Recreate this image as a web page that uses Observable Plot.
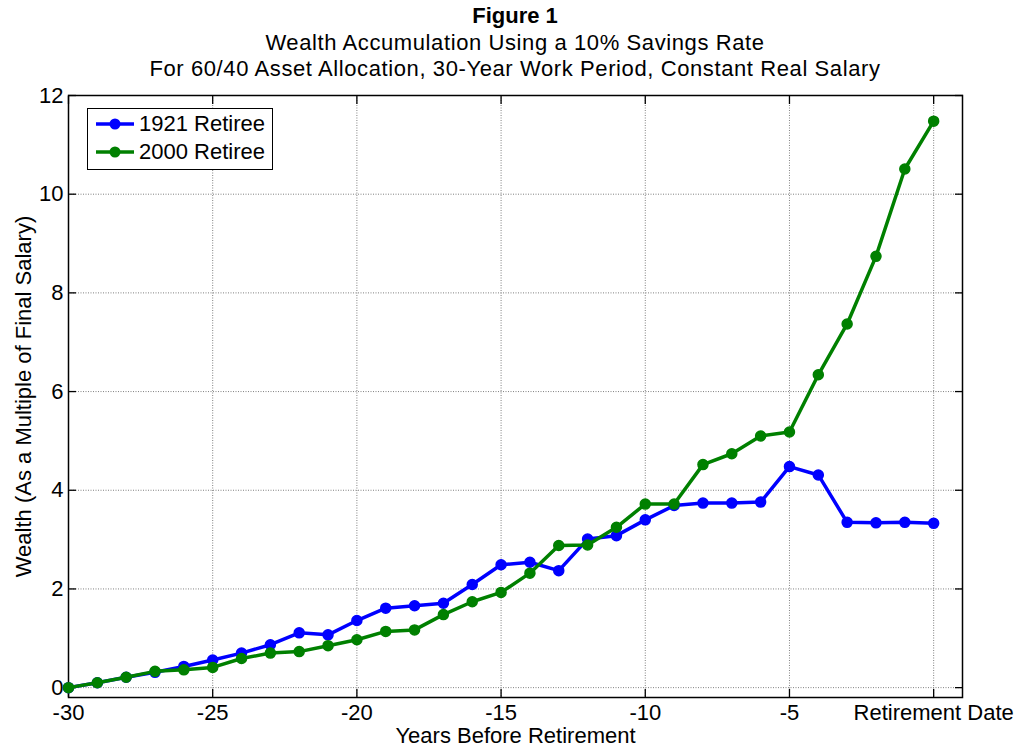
<!DOCTYPE html>
<html><head><meta charset="utf-8">
<script src="https://cdn.jsdelivr.net/npm/d3@7"></script>
<script src="https://cdn.jsdelivr.net/npm/@observablehq/plot@0.6"></script>
<style>
body{margin:0;background:#fff;font-family:"Liberation Sans",Arial,sans-serif;color:#000;}
#wrap{position:relative;width:1021px;height:748px;overflow:hidden;}
#title{height:80px;margin-left:68px;width:894px;text-align:center;font-size:22px;line-height:26.5px;padding-top:3px;box-sizing:border-box;}
#title b{font-weight:bold;}
#title span{letter-spacing:0.6px;}
#legend{position:absolute;left:87px;top:108px;width:186px;height:62px;border:1px solid #000;background:#fff;box-sizing:border-box;font-size:22px;}
.row{position:absolute;left:0;height:28px;display:flex;align-items:center;}
.row svg{margin-left:8px;margin-right:4px;}
</style></head>
<body>
<div id="wrap">
<div id="title"><b>Figure 1</b><br><span>Wealth Accumulation Using a 10% Savings Rate</span><br><span>For 60/40 Asset Allocation, 30-Year Work Period, Constant Real Salary</span></div>
<div id="chart"></div>
<div id="legend"></div>
</div>
<script>
const years = [-30,-29,-28,-27,-26,-25,-24,-23,-22,-21,-20,-19,-18,-17,-16,-15,-14,-13,-12,-11,-10,-9,-8,-7,-6,-5,-4,-3,-2,-1,0];
const retiree1921 = [0,0.10,0.21,0.31,0.43,0.56,0.70,0.87,1.11,1.07,1.36,1.61,1.66,1.71,2.09,2.49,2.54,2.37,3.01,3.08,3.40,3.69,3.74,3.74,3.76,4.48,4.31,3.35,3.34,3.35,3.33];
const retiree2000 = [0,0.10,0.21,0.33,0.36,0.41,0.59,0.70,0.73,0.85,0.97,1.14,1.17,1.48,1.74,1.93,2.32,2.88,2.89,3.25,3.72,3.72,4.52,4.74,5.10,5.18,6.34,7.37,8.74,10.51,11.48];
const seriesNames = ["1921 Retiree","2000 Retiree"];
const seriesColors = ["#0000ff","#008000"];
const xTicks = [-30,-25,-20,-15,-10,-5,0];
const xTickLabels = ["-30","-25","-20","-15","-10","-5","Retirement Date"];
const yTicks = [0,2,4,6,8,10,12];
const xLabel = "Years Before Retirement";
const yLabel = "Wealth (As a Multiple of Final Salary)";

const d1921 = years.map((y,i)=>({year:y, value:retiree1921[i]}));
const d2000 = years.map((y,i)=>({year:y, value:retiree2000[i]}));
const xFmt = new Map(xTicks.map((t,i)=>[t,xTickLabels[i]]));
const grid = {stroke:"#808080", strokeDasharray:"1,1.5", strokeWidth:1};

const chart = Plot.plot({
  width:1021, height:668,
  marginTop:15, marginBottom:51, marginLeft:68, marginRight:59,
  style:{fontFamily:"Liberation Sans, Arial, sans-serif", fontSize:"22px", color:"black", background:"white"},
  x:{domain:[-30,1]},
  y:{domain:[-0.2,12]},
  marks:[
    Plot.ruleX(xTicks, grid),
    Plot.ruleY(yTicks, grid),
    Plot.frame({stroke:"black", strokeWidth:1.5}),
    Plot.axisX(xTicks, {tickSize:-8, tickPadding:14.5, tickFormat:d=>xFmt.get(d), label:null, strokeWidth:1.3}),
    Plot.axisX(xTicks, {anchor:"top", tickSize:-8, fill:"none", label:null, strokeWidth:1.3}),
    Plot.axisY(yTicks, {tickSize:-8, tickPadding:13, label:null, strokeWidth:1.3}),
    Plot.axisY(yTicks, {anchor:"right", tickSize:-8, fill:"none", label:null, strokeWidth:1.3}),
    Plot.line(d1921, {x:"year", y:"value", stroke:seriesColors[0], strokeWidth:3.5}),
    Plot.dot(d1921, {x:"year", y:"value", r:5, fill:seriesColors[0], stroke:seriesColors[0], strokeWidth:1.5}),
    Plot.line(d2000, {x:"year", y:"value", stroke:seriesColors[1], strokeWidth:3.5}),
    Plot.dot(d2000, {x:"year", y:"value", r:5, fill:seriesColors[1], stroke:seriesColors[1], strokeWidth:1.5}),
    Plot.text([xLabel], {frameAnchor:"bottom", dy:45.5, fontSize:22, fill:"black", textAnchor:"middle"}),
    Plot.text([yLabel], {frameAnchor:"left", rotate:-90, dx:-45, fontSize:22, fill:"black", textAnchor:"middle"})
  ]
});
document.getElementById("chart").appendChild(chart);

const legend = document.getElementById("legend");
seriesNames.forEach((name,i)=>{
  const row = document.createElement("div");
  row.className = "row";
  row.style.top = (i===0 ? 1 : 29) + "px";
  row.innerHTML = `<svg width="39" height="14"><line x1="0" y1="7" x2="38" y2="7" stroke="${seriesColors[i]}" stroke-width="3.5"/><circle cx="19" cy="7" r="5.5" fill="${seriesColors[i]}"/></svg><span>${name}</span>`;
  legend.appendChild(row);
});
</script>
</body></html>
